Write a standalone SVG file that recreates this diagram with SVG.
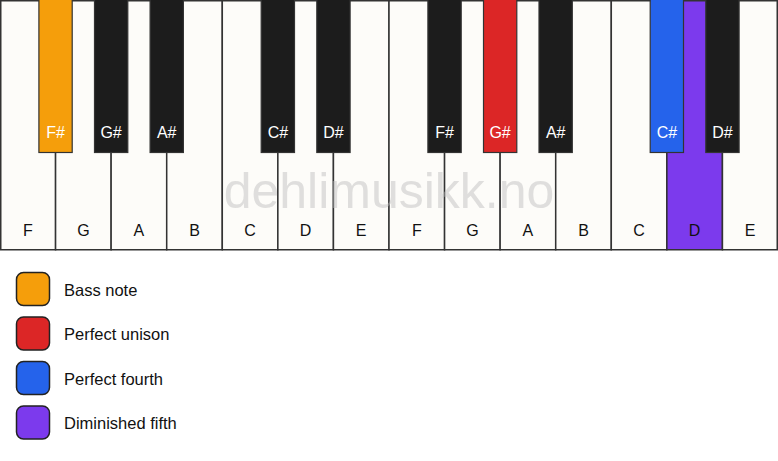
<svg xmlns="http://www.w3.org/2000/svg" width="778" height="461" viewBox="0 0 778 461">
<style>
.w{fill:#fdfcf9;stroke:#333;stroke-width:1.5}
.b{fill:#1c1c1c;stroke:#333;stroke-width:1.2}
.wl{font-family:"Liberation Sans",Arial,sans-serif;font-size:16px;fill:#111;text-anchor:middle}
.bl{font-family:"Liberation Sans",Arial,sans-serif;font-size:16px;fill:#fff;text-anchor:middle}
.lg{stroke:#222;stroke-width:1.5}
.lt{font-family:"Liberation Sans",Arial,sans-serif;font-size:16.5px;fill:#111}
.wm{font-family:"Liberation Sans",Arial,sans-serif;font-size:50px;fill:#bbbbbb;fill-opacity:0.45;text-anchor:middle}
</style>
<rect width="778" height="461" fill="#ffffff"/>
<g id="white-keys">
<rect class="w" x="0.75" y="0.75" width="54.82" height="249"/>
<rect class="w" x="55.57" y="0.75" width="55.57" height="249"/>
<rect class="w" x="111.14" y="0.75" width="55.57" height="249"/>
<rect class="w" x="166.71" y="0.75" width="55.57" height="249"/>
<rect class="w" x="222.29" y="0.75" width="55.57" height="249"/>
<rect class="w" x="277.86" y="0.75" width="55.57" height="249"/>
<rect class="w" x="333.43" y="0.75" width="55.57" height="249"/>
<rect class="w" x="389" y="0.75" width="55.57" height="249"/>
<rect class="w" x="444.57" y="0.75" width="55.57" height="249"/>
<rect class="w" x="500.14" y="0.75" width="55.57" height="249"/>
<rect class="w" x="555.71" y="0.75" width="55.57" height="249"/>
<rect class="w" x="611.29" y="0.75" width="55.57" height="249"/>
<rect class="w" x="666.86" y="0.75" width="55.57" height="249" style="fill:#7c3aed"/>
<rect class="w" x="722.43" y="0.75" width="54.82" height="249"/>
</g>
<text class="wm" x="389" y="208">dehlimusikk.no</text>
<g id="white-labels">
<text class="wl" x="27.8" y="236">F</text>
<text class="wl" x="83.4" y="236">G</text>
<text class="wl" x="138.9" y="236">A</text>
<text class="wl" x="194.5" y="236">B</text>
<text class="wl" x="250.1" y="236">C</text>
<text class="wl" x="305.6" y="236">D</text>
<text class="wl" x="361.2" y="236">E</text>
<text class="wl" x="416.8" y="236">F</text>
<text class="wl" x="472.4" y="236">G</text>
<text class="wl" x="527.9" y="236">A</text>
<text class="wl" x="583.5" y="236">B</text>
<text class="wl" x="639.1" y="236">C</text>
<text class="wl" x="694.6" y="236">D</text>
<text class="wl" x="750.2" y="236">E</text>
</g>
<g id="black-keys">
<rect class="b" x="38.9" y="-1" width="33.3" height="153.5" style="fill:#f59e0b"/>
<rect class="b" x="94.5" y="-1" width="33.3" height="153.5"/>
<rect class="b" x="150.1" y="-1" width="33.3" height="153.5"/>
<rect class="b" x="261.2" y="-1" width="33.3" height="153.5"/>
<rect class="b" x="316.8" y="-1" width="33.3" height="153.5"/>
<rect class="b" x="427.9" y="-1" width="33.3" height="153.5"/>
<rect class="b" x="483.5" y="-1" width="33.3" height="153.5" style="fill:#dc2626"/>
<rect class="b" x="539.0" y="-1" width="33.3" height="153.5"/>
<rect class="b" x="650.2" y="-1" width="33.3" height="153.5" style="fill:#2563eb"/>
<rect class="b" x="705.8" y="-1" width="33.3" height="153.5"/>
</g>
<g id="black-labels">
<text class="bl" x="55.6" y="138">F#</text>
<text class="bl" x="111.1" y="138">G#</text>
<text class="bl" x="166.7" y="138">A#</text>
<text class="bl" x="277.9" y="138">C#</text>
<text class="bl" x="333.4" y="138">D#</text>
<text class="bl" x="444.6" y="138">F#</text>
<text class="bl" x="500.1" y="138">G#</text>
<text class="bl" x="555.7" y="138">A#</text>
<text class="bl" x="666.9" y="138">C#</text>
<text class="bl" x="722.4" y="138">D#</text>
</g>
<g id="legend">
<g id="legend-bass"><rect class="lg" x="16.5" y="272.5" width="33" height="33" rx="7" fill="#f59e0b"/><text class="lt" x="64" y="295.5">Bass note</text></g>
<g id="legend-unison"><rect class="lg" x="16.5" y="317" width="33" height="33" rx="7" fill="#dc2626"/><text class="lt" x="64" y="340">Perfect unison</text></g>
<g id="legend-fourth"><rect class="lg" x="16.5" y="361.5" width="33" height="33" rx="7" fill="#2563eb"/><text class="lt" x="64" y="384.5">Perfect fourth</text></g>
<g id="legend-fifth"><rect class="lg" x="16.5" y="406" width="33" height="33" rx="7" fill="#7c3aed"/><text class="lt" x="64" y="429">Diminished fifth</text></g>
</g>
</svg>
